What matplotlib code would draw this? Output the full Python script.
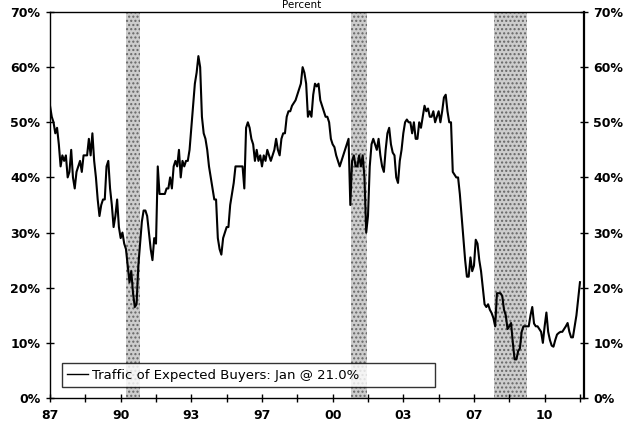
import numpy as np
import matplotlib.pyplot as plt

# monthly readings, Jan 1987 .. Jan 2012 (percent)
y87 = [53, 51, 50, 48, 49, 46, 42, 44, 43, 44, 40, 41]
y88 = [45, 40, 38, 41, 42, 43, 41, 44, 44, 44, 47, 44]
y89 = [48, 43, 40, 36, 33, 35, 36, 36, 42, 43, 38, 35]
y90 = [31, 33, 36, 31, 29, 30, 28, 27, 24, 21, 23, 19]
y91 = [16.5, 17, 24, 28, 32, 34, 34, 33, 30, 27, 25, 29]
y92 = [28, 42, 37, 37, 37, 37, 38, 38, 40, 38, 42, 43]
y93 = [42, 45, 40, 43, 42, 43, 43, 45, 49, 53, 57, 59]
y94 = [62, 60, 51, 48, 47, 45, 42, 40, 38, 36, 36, 29]
y95 = [27, 26, 29, 30, 31, 31, 35, 37, 39, 42, 42, 42]
y96 = [42, 42, 38, 49, 50, 49, 47, 46, 43, 45, 43, 44]
y97 = [42, 44, 43, 45, 44, 43, 44, 45, 47, 45, 44, 47]
y98 = [48, 48, 51, 52, 52, 53, 53.5, 54, 55, 56, 57, 60]
y99 = [59, 57, 51, 52, 51, 55, 57, 56.5, 57, 54, 53, 52]
y00 = [51, 51, 50, 47, 46, 45.5, 44, 43, 42, 43, 44, 45]
y01 = [46, 47, 35, 43, 44, 42, 42, 44, 42, 44, 40, 30]
y02 = [33, 42, 46, 47, 46, 45, 47, 44, 42, 41, 45, 48]
y03 = [49, 46, 44.5, 44, 40, 39, 43, 45, 48, 50, 50.5, 50]
y04 = [50, 48, 50, 47, 47, 50, 49, 51, 53, 52, 52.5, 51]
y05 = [51, 52, 50, 51, 52, 50, 52, 54.5, 55, 52, 50, 50]
y06 = [41, 40.5, 40, 40, 37, 33, 29, 25, 22, 22, 25.5, 23]
y07 = [24, 28.7, 28, 25, 23, 20, 17, 16.5, 17, 16, 15.4, 14.5]
y08 = [13, 19, 19, 19, 18.5, 16, 15, 12.5, 13, 13.6, 10, 7]
y09 = [7, 8.5, 9, 12, 13, 13, 13, 13, 15, 16.5, 13.5, 13]
y10 = [13, 12.5, 12, 10, 13, 15.5, 12, 10.5, 9.5, 9.3, 10.5, 11.5]
y11 = [11.8, 12, 12, 12.5, 13, 13.6, 12, 11, 11, 13, 15, 18]
y12 = [21]

traffic = np.array(y87 + y88 + y89 + y90 + y91 + y92 + y93 + y94 + y95 + y96 + y97 + y98 + y99
                   + y00 + y01 + y02 + y03 + y04 + y05 + y06 + y07 + y08 + y09 + y10 + y11 + y12)
months = np.arange(len(traffic))  # months since Jan 1987

# recessions, months since Jan 1987
rec_start = [43, 170.5, 251.5]
rec_end = [51, 179.5, 270]

xticks_major = [0, 40, 80, 120, 160, 200, 240, 280]
xlabels = ["87", "90", "93", "97", "00", "03", "07", "10"]
yticks = [0, 10, 20, 30, 40, 50, 60, 70]

fig = plt.figure(figsize=(6.28, 4.26), dpi=100)
ax = fig.add_axes([50/628, 28/426, 533.5/628, 386/426])

for s, e in zip(rec_start, rec_end):
    ax.axvspan(s, e, facecolor="#cdcdcd", edgecolor="#666666", hatch="....", linewidth=0, zorder=1)

ax.plot(months, traffic, color="black", lw=1.5, zorder=3,
        label="Traffic of Expected Buyers: Jan @ 21.0%")

ax.set_xlim(0, 302)
ax.set_ylim(0, 70)
ax.set_xticks(xticks_major)
ax.set_xticklabels(xlabels)
ax.set_xticks(np.arange(20, 301, 40), minor=True)
ax.set_yticks(yticks)
ax.set_yticklabels([f"{v}%" for v in yticks])

ax.tick_params(axis="both", which="both", direction="inout", length=6, width=1,
               labelsize=9, colors="black")
ax.tick_params(axis="y", right=True, labelright=True, pad=4)
ax.tick_params(axis="x", pad=5)
for lab in ax.get_xticklabels() + ax.get_yticklabels():
    lab.set_fontweight("bold")
for sp in ax.spines.values():
    sp.set_color("black")
    sp.set_linewidth(1)
ax.spines["right"].set_linewidth(1.6)

leg = ax.legend(loc="lower left", bbox_to_anchor=(0.0225, 0.0285, 0.70, 0.07),
                mode="expand", frameon=True, fancybox=False, fontsize=9.5,
                handlelength=1.6, handletextpad=0.3, borderaxespad=0)
leg.get_frame().set_edgecolor("black")
leg.get_frame().set_linewidth(1)
leg.get_lines()[0].set_linewidth(1)
leg.set_zorder(5)

fig.text(302/628, 1.0, "Percent", ha="center", va="top", fontsize=7.5)

fig.savefig("out.png", dpi=100)
